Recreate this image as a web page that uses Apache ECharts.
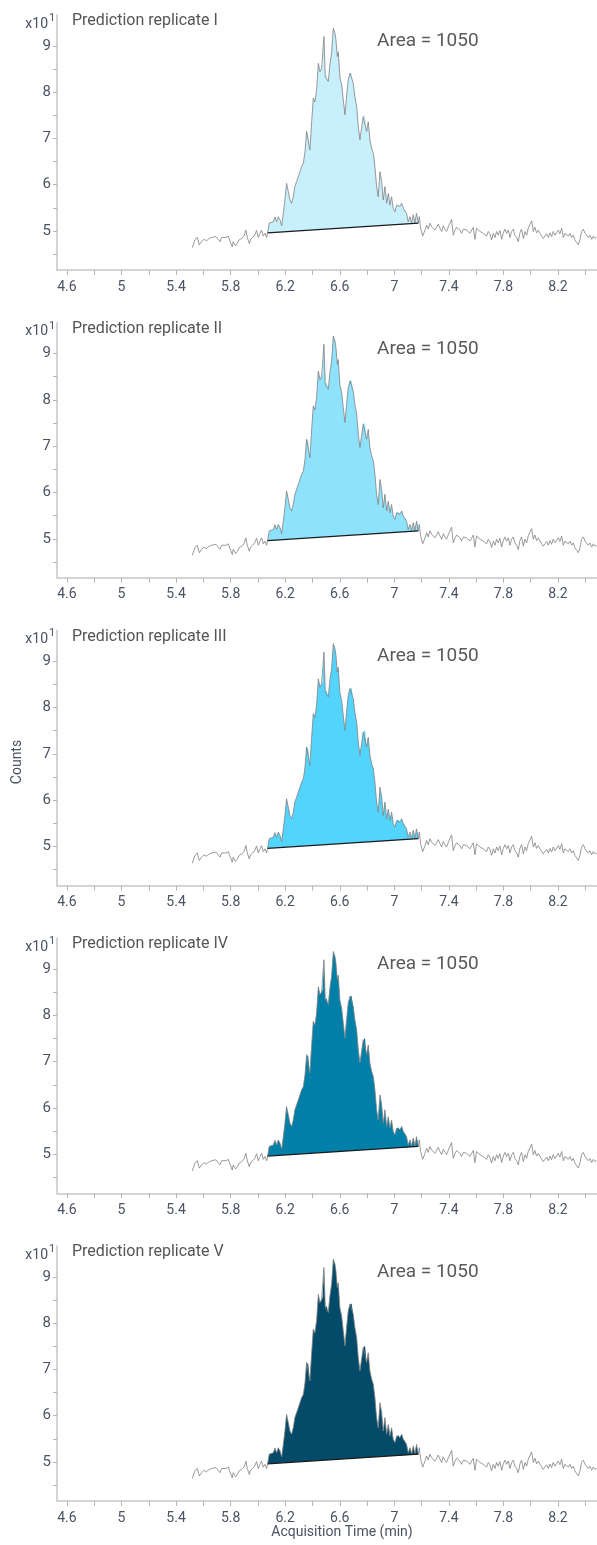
<!DOCTYPE html>
<html>
<head>
  <meta charset="utf-8">
  <title>Prediction replicates</title>
  <style>
    html, body { margin: 0; padding: 0; background: #fff; }
    #main { width: 597px; height: 1545px; }
  </style>
</head>
<body>
<div id="main"></div>
<script src="https://cdn.jsdelivr.net/npm/echarts@6/dist/echarts.min.js"></script>
<script>
// chromatogram trace (counts shown in units of x10^1)
var time = [
  5.519, 5.538, 5.556, 5.570, 5.587, 5.604, 5.624, 5.643, 5.661, 5.673,
  5.692, 5.709, 5.722, 5.734, 5.746, 5.766, 5.783, 5.795, 5.812, 5.819,
  5.836, 5.849, 5.863, 5.881, 5.898, 5.912, 5.922, 5.937, 5.946, 5.961,
  5.976, 5.990, 6.003, 6.015, 6.027, 6.039, 6.052, 6.064,
  6.071, 6.083, 6.113, 6.125, 6.137, 6.149, 6.162, 6.174, 6.186, 6.198,
  6.210, 6.223, 6.235, 6.247, 6.259, 6.271, 6.284, 6.296, 6.308, 6.320,
  6.333, 6.345, 6.357, 6.369, 6.381, 6.394, 6.406, 6.418, 6.430, 6.443,
  6.455, 6.467, 6.474, 6.484, 6.494, 6.504, 6.516, 6.528, 6.540, 6.553,
  6.565, 6.572, 6.582, 6.589, 6.601, 6.614, 6.626, 6.638, 6.650, 6.662,
  6.675, 6.687, 6.699, 6.711, 6.724, 6.736, 6.748, 6.760, 6.772, 6.785,
  6.797, 6.809, 6.821, 6.834, 6.846, 6.858, 6.870, 6.882, 6.895, 6.907,
  6.919, 6.931, 6.944, 6.956, 6.968, 6.980, 6.992, 7.005, 7.017, 7.029,
  7.041, 7.054, 7.066, 7.078, 7.090, 7.102, 7.115, 7.127, 7.139, 7.151,
  7.163, 7.176,
  7.183, 7.193, 7.208, 7.225, 7.237, 7.249, 7.261, 7.274, 7.286, 7.298,
  7.310, 7.322, 7.335, 7.347, 7.359, 7.371, 7.383, 7.396, 7.408, 7.420,
  7.432, 7.445, 7.457, 7.469, 7.481, 7.493, 7.506, 7.518, 7.530, 7.542,
  7.555, 7.567, 7.579, 7.591, 7.603, 7.616, 7.628, 7.640, 7.652, 7.664,
  7.677, 7.689, 7.701, 7.713, 7.726, 7.738, 7.750, 7.762, 7.774, 7.787,
  7.799, 7.811, 7.823, 7.836, 7.848, 7.860, 7.872, 7.884, 7.897, 7.909,
  7.921, 7.933, 7.946, 7.958, 7.970, 7.982, 7.994, 8.007, 8.019, 8.031,
  8.043, 8.056, 8.068, 8.080, 8.092, 8.104, 8.117, 8.129, 8.141, 8.153,
  8.165, 8.178, 8.190, 8.202, 8.214, 8.227, 8.239, 8.251, 8.263, 8.276,
  8.288, 8.300, 8.312, 8.324, 8.337, 8.349, 8.361, 8.373, 8.386, 8.398,
  8.410, 8.422, 8.434, 8.447, 8.459, 8.471, 8.483
];
var counts = [
  4.64, 4.81, 4.86, 4.70, 4.77, 4.82, 4.79, 4.84, 4.86, 4.89,
  4.88, 4.82, 4.77, 4.86, 4.89, 4.86, 4.89, 4.79, 4.66, 4.77,
  4.68, 4.73, 4.81, 4.84, 4.89, 5.02, 4.86, 4.73, 4.82, 4.86,
  4.91, 5.01, 4.86, 4.95, 5.02, 4.89, 4.95, 4.86,
  4.96, 5.17, 5.20, 5.30, 5.20, 5.31, 5.24, 5.11, 5.38, 5.67,
  6.03, 5.85, 5.67, 5.60, 5.74, 5.96, 6.07, 6.17, 6.28, 6.39,
  6.46, 6.71, 7.15, 7.11, 6.75, 7.36, 7.87, 7.79, 8.05, 8.62,
  8.44, 8.51, 8.55, 9.20, 8.33, 8.37, 8.23, 8.59, 8.84, 9.38,
  9.27, 9.13, 8.77, 8.87, 8.33, 8.15, 7.83, 7.51, 7.90, 8.26,
  8.41, 8.42, 8.19, 7.90, 7.69, 7.25, 6.97, 7.22, 7.47, 7.51,
  7.15, 7.36, 6.97, 6.79, 6.68, 6.39, 5.96, 5.74, 6.28, 6.07,
  5.67, 5.96, 5.60, 5.81, 5.56, 5.74, 5.49, 5.42, 5.56, 5.58,
  5.53, 5.60, 5.49, 5.45, 5.38, 5.20, 5.31, 5.18, 5.35, 5.18,
  5.38, 5.17,
  5.31, 5.06, 4.89, 5.02, 5.13, 5.04, 5.17, 5.09, 5.13, 5.02,
  5.08, 5.15, 5.06, 4.99, 5.11, 5.04, 4.99, 5.09, 5.13, 5.25,
  4.91, 5.02, 5.08, 5.11, 5.02, 4.95, 5.04, 5.08, 5.02, 5.06,
  4.95, 5.02, 5.08, 4.82, 5.06, 5.02, 4.99, 5.01, 4.95, 4.96,
  4.89, 4.99, 4.94, 4.81, 4.95, 4.86, 4.99, 4.91, 5.01, 4.82,
  4.96, 5.04, 4.95, 5.02, 4.86, 4.99, 5.04, 4.91, 4.86, 4.77,
  4.96, 5.04, 4.84, 4.99, 4.91, 5.06, 5.08, 5.22, 4.99, 5.08,
  4.96, 5.02, 4.95, 4.99, 4.84, 4.89, 4.94, 4.86, 4.96, 4.88,
  4.99, 4.91, 4.95, 5.02, 4.94, 5.06, 4.86, 4.95, 4.96, 4.89,
  4.95, 4.86, 4.91, 4.81, 4.75, 4.70, 4.81, 4.99, 5.04, 4.95,
  4.99, 4.86, 4.91, 4.82, 4.89, 4.84, 4.86
];
// integration baseline [time, counts]
var baseStart = [6.071, 4.96];
var baseEnd = [7.176, 5.17];

var panelNames = ["Prediction replicate I", "Prediction replicate II", "Prediction replicate III",
                  "Prediction replicate IV", "Prediction replicate V"];
var areaText = "Area = 1050";
var fillColors = ["#c7effc", "#8ee2fc", "#53d4fc", "#007fa8", "#044b69"];

var xLabelValues = [4.6, 5, 5.4, 5.8, 6.2, 6.6, 7, 7.4, 7.8, 8.2];
var xTickValues = [4.6, 4.8, 5, 5.2, 5.4, 5.6, 5.8, 6, 6.2, 6.4, 6.6, 6.8, 7, 7.2, 7.4, 7.6, 7.8, 8, 8.2, 8.4];
var yLabelValues = [5, 6, 7, 8, 9];
var yTickValues = [4.5, 5, 5.5, 6, 6.5, 7, 7.5, 8, 8.5, 9];

var chart = echarts.init(document.getElementById("main"));

var trace = [];
for (var i = 0; i < time.length; i++) {
  trace.push([time[i], counts[i]]);
}
// points that lie inside the integrated peak
var peak = trace.filter(function (p) {
  return p[0] >= baseStart[0] && p[0] <= baseEnd[0];
});

var FONT = "Roboto, 'Liberation Sans', sans-serif";
var labelColor = "#4b5263";
var grids = [], xAxes = [], yAxes = [], series = [], graphics = [];

for (var k = 0; k < 5; k++) {
  var panelTop = 15 + 307.75 * k;
  grids.push({ left: 57, right: 0, top: panelTop, height: 255 });
  xAxes.push({
    type: "value", gridIndex: k, min: 4.527, max: 8.486,
    axisLine: { lineStyle: { color: "#c6c6c6", width: 1.5 } },
    axisTick: { customValues: xTickValues, length: 5, lineStyle: { color: "#b5b5b5" } },
    axisLabel: { customValues: xLabelValues, color: labelColor, fontSize: 14, margin: 10, fontFamily: FONT },
    splitLine: { show: false }
  });
  yAxes.push({
    type: "value", gridIndex: k, min: 4.158, max: 9.665,
    axisLine: { show: true, lineStyle: { color: "#c6c6c6", width: 1.5 } },
    axisTick: { show: true, customValues: yTickValues, length: 4, lineStyle: { color: "#b5b5b5" } },
    axisLabel: { customValues: yLabelValues, color: labelColor, fontSize: 15, margin: 6, fontFamily: FONT },
    splitLine: { show: false }
  });

  series.push({
    type: "custom", xAxisIndex: k, yAxisIndex: k, silent: true,
    data: [[6.5, 7]],
    renderItem: (function (color) {
      return function (params, api) {
        var pts = peak.map(function (p) { return api.coord(p); });
        pts.push(api.coord(baseEnd));
        pts.push(api.coord(baseStart));
        return { type: "polygon", shape: { points: pts }, style: { fill: color } };
      };
    })(fillColors[k])
  });
  series.push({
    type: "line", xAxisIndex: k, yAxisIndex: k, data: trace,
    showSymbol: false, silent: true,
    lineStyle: { color: "#808080", width: 0.8 }
  });
  series.push({
    type: "line", xAxisIndex: k, yAxisIndex: k, data: [baseStart, baseEnd],
    showSymbol: false, silent: true,
    lineStyle: { color: "#1a1a1a", width: 1.3 }
  });

  graphics.push({
    type: "text", x: 72, y: panelTop + 6,
    style: { text: panelNames[k], fill: "#555", font: "16px " + FONT, align: "left", verticalAlign: "middle" }
  });
  graphics.push({
    type: "text", x: 377, y: panelTop + 26,
    style: { text: areaText, fill: "#5a5a5a", font: "19px " + FONT, align: "left", verticalAlign: "middle" }
  });
  graphics.push({
    type: "text", x: 48, y: panelTop + 9,
    style: { text: "x10", fill: labelColor, font: "14px " + FONT, align: "right", verticalAlign: "middle" }
  });
  graphics.push({
    type: "text", x: 49, y: panelTop + 3,
    style: { text: "1", fill: labelColor, font: "11px " + FONT, align: "left", verticalAlign: "middle" }
  });
}

graphics.push({
  type: "text", x: 17, y: 762, rotation: Math.PI / 2,
  style: { text: "Counts", fill: labelColor, font: "14px " + FONT, align: "center", verticalAlign: "middle" }
});
graphics.push({
  type: "text", x: 342, y: 1532,
  style: { text: "Acquisition Time (min)", fill: labelColor, font: "14px " + FONT, align: "center", verticalAlign: "middle" }
});

chart.setOption({
  animation: false,
  grid: grids,
  xAxis: xAxes,
  yAxis: yAxes,
  series: series,
  graphic: graphics
});
</script>
</body>
</html>
